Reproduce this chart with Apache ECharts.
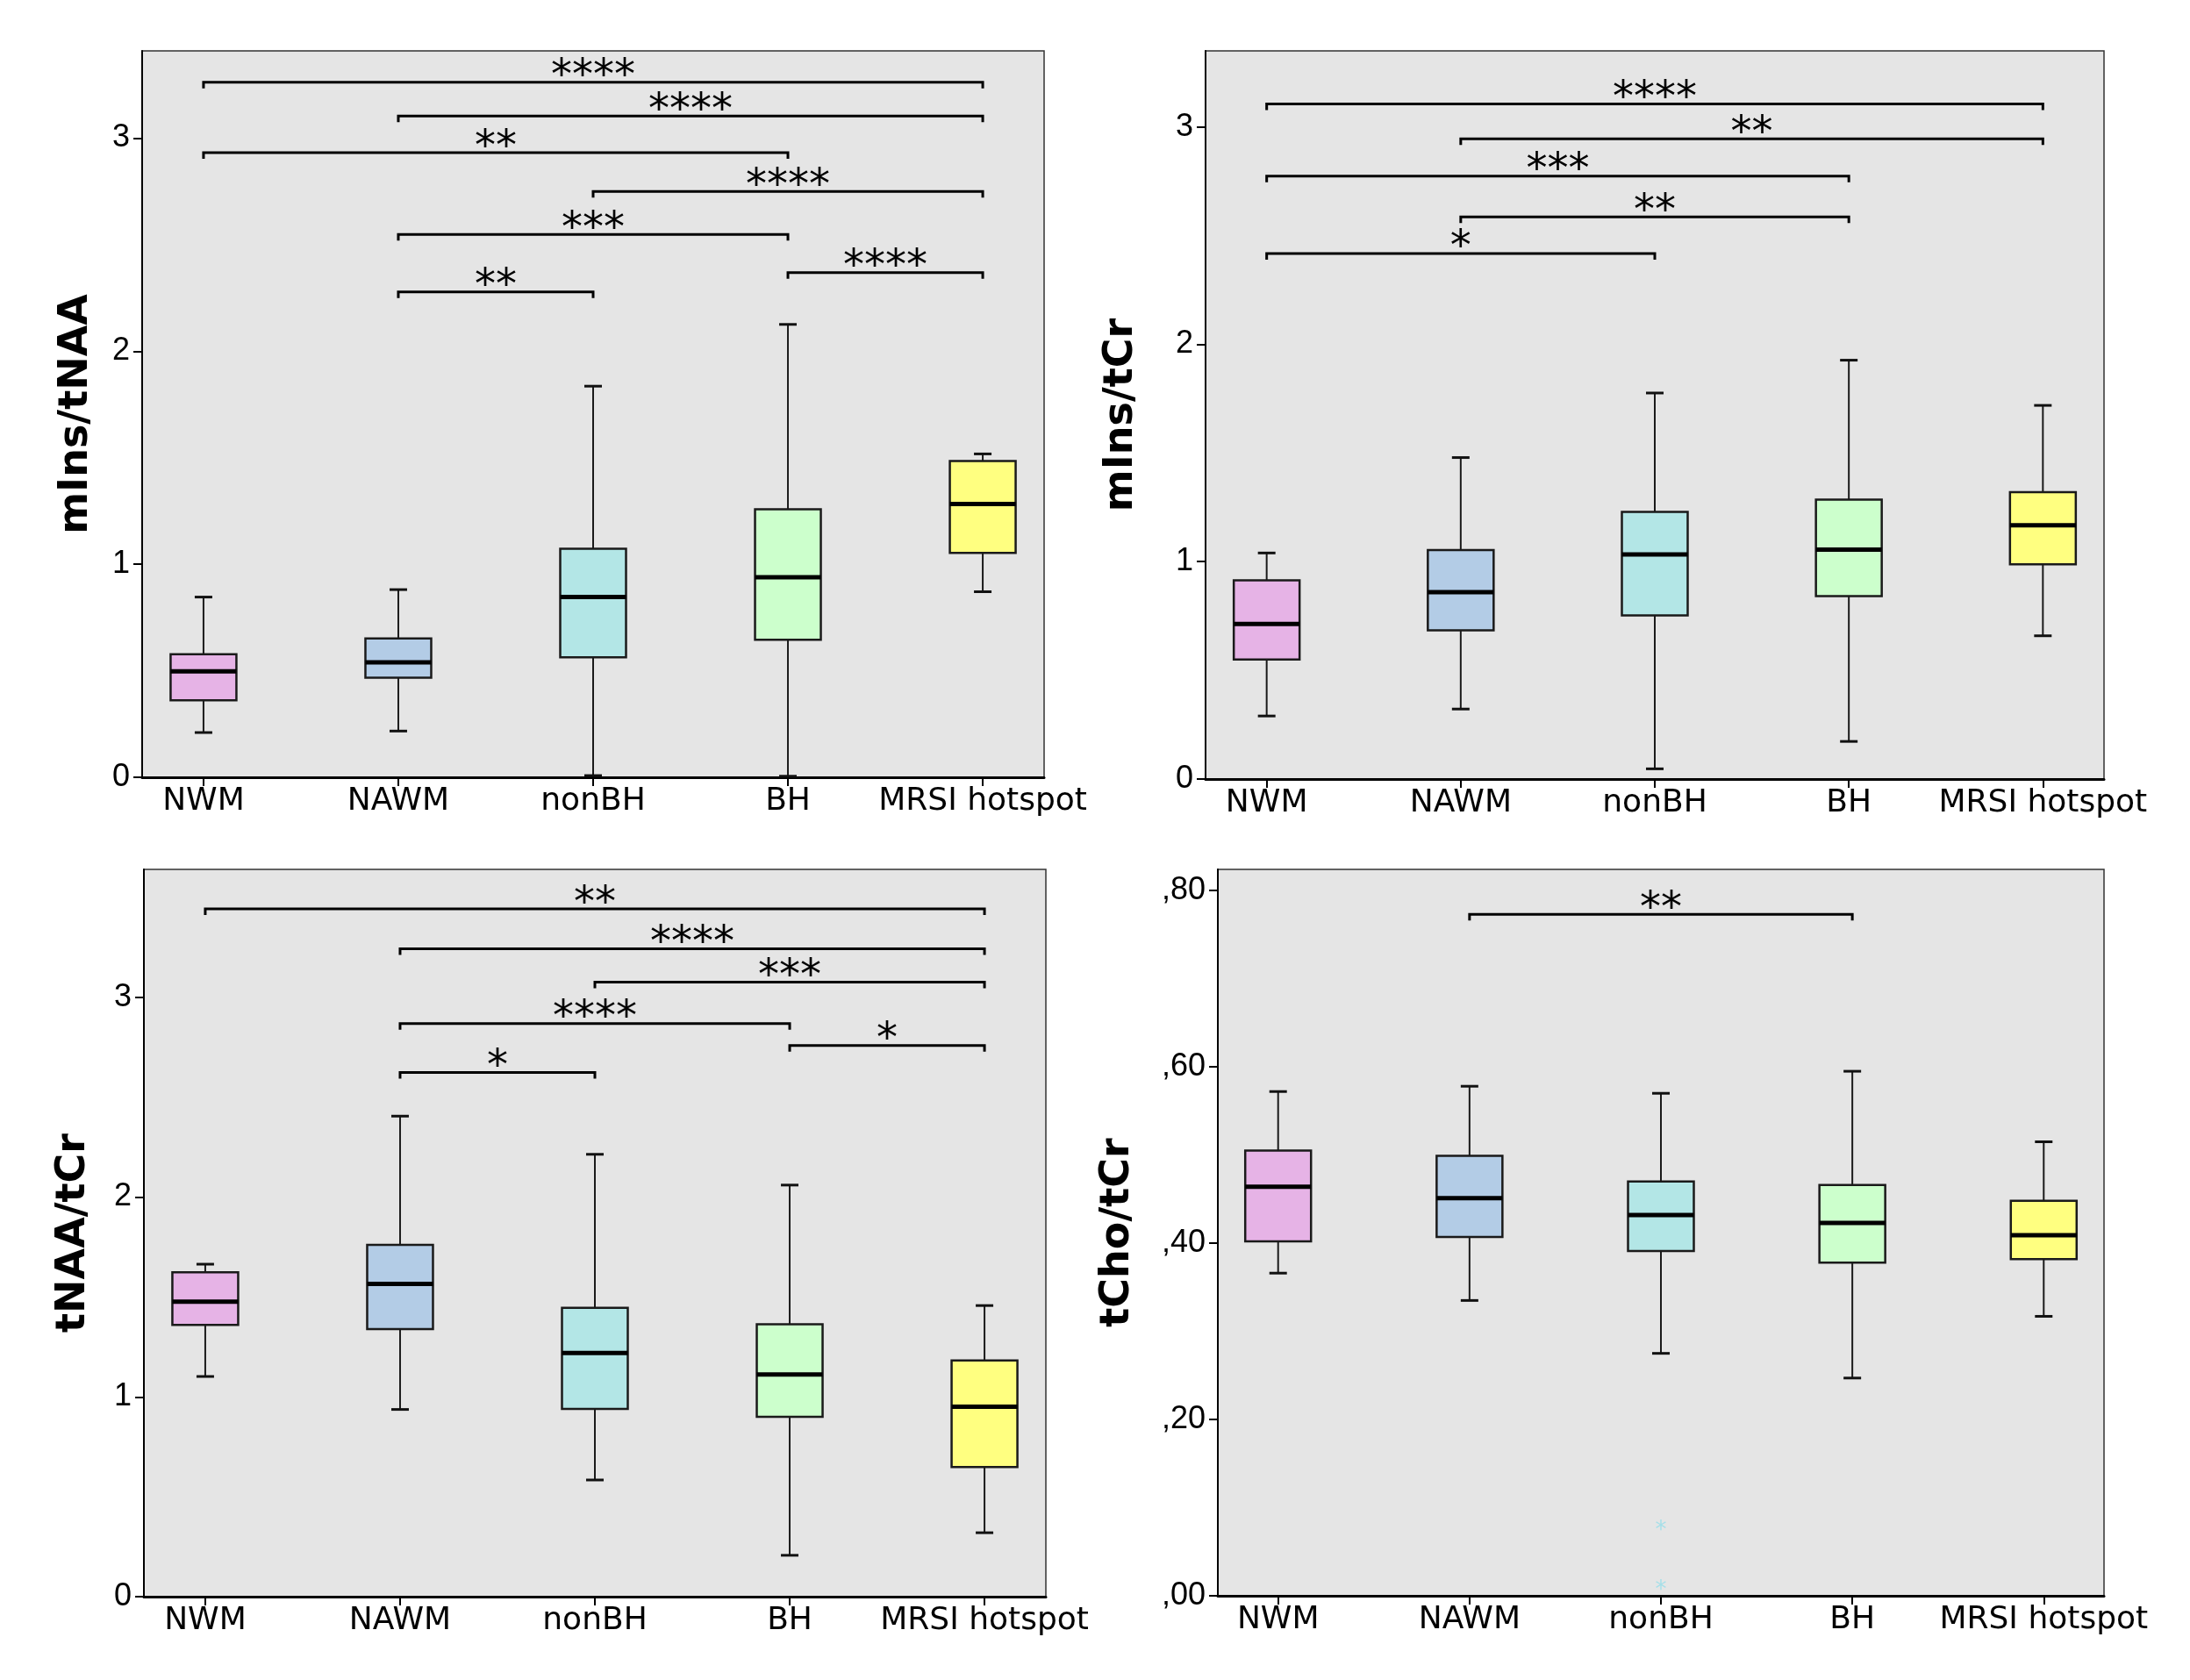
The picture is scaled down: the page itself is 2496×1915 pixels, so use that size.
<!DOCTYPE html>
<html><head><meta charset="utf-8">
<script src="https://cdn.jsdelivr.net/npm/echarts@6/dist/echarts.min.js"></script>
<style>html,body{margin:0;padding:0;background:#fff}#c{width:2496px;height:1915px}</style>
</head><body><div id="c"></div>
<script>
const categories = ['NWM', 'NAWM', 'nonBH', 'BH', 'MRSI hotspot'];
const boxColors = ['#e6b3e6', '#b3cce6', '#b3e6e6', '#ccffcc', '#ffff80'];

// each box: [whisker min, Q1, median, Q3, whisker max]
const mInsTNAA = [
  [0.21, 0.361, 0.497, 0.578, 0.846],
  [0.217, 0.467, 0.540, 0.652, 0.881],
  [0.008, 0.563, 0.846, 1.073, 1.836],
  [0.005, 0.646, 0.939, 1.258, 2.126],
  [0.871, 1.053, 1.283, 1.485, 1.518]
];
const mInsTCr = [
  [0.290, 0.550, 0.713, 0.914, 1.040],
  [0.322, 0.684, 0.860, 1.053, 1.479],
  [0.047, 0.753, 1.033, 1.229, 1.776],
  [0.173, 0.842, 1.055, 1.286, 1.927],
  [0.659, 0.988, 1.167, 1.320, 1.719]
];
const tNAATCr = [
  [1.102, 1.360, 1.476, 1.624, 1.664],
  [0.937, 1.339, 1.565, 1.761, 2.405],
  [0.584, 0.940, 1.220, 1.446, 2.214],
  [0.207, 0.900, 1.112, 1.363, 2.060],
  [0.320, 0.649, 0.951, 1.182, 1.457]
];
const tChoTCr = [
  [0.366, 0.402, 0.464, 0.505, 0.572],
  [0.335, 0.407, 0.451, 0.499, 0.578],
  [0.275, 0.391, 0.432, 0.470, 0.570],
  [0.247, 0.378, 0.423, 0.466, 0.595],
  [0.317, 0.382, 0.409, 0.448, 0.515]
];
// outliers: [category index, value]
const tChoTCrOutliers = [[2, 0.079], [2, 0.012]];

// significance brackets: [from category, to category, height, label]
const mInsTNAASig = [
  [0, 4, 3.263, '****'],
  [1, 4, 3.104, '****'],
  [0, 3, 2.932, '**'],
  [2, 4, 2.750, '****'],
  [1, 3, 2.548, '***'],
  [3, 4, 2.369, '****'],
  [1, 2, 2.278, '**']
];
const mInsTCrSig = [
  [0, 4, 3.106, '****'],
  [1, 4, 2.945, '**'],
  [0, 3, 2.774, '***'],
  [1, 3, 2.586, '**'],
  [0, 2, 2.418, '*']
];
const tNAATCrSig = [
  [0, 4, 3.442, '**'],
  [1, 4, 3.243, '****'],
  [2, 4, 3.076, '***'],
  [1, 3, 2.868, '****'],
  [3, 4, 2.758, '*'],
  [1, 2, 2.623, '*']
];
const tChoTCrSig = [
  [1, 3, 0.773, '**']
];

const ticksInt = [0, 1, 2, 3];
const ticksCho = [0, 0.2, 0.4, 0.6, 0.8];

function boxRender(params, api) {
  const x = api.value(0);
  const idx = params.dataIndex;
  const p = [1, 2, 3, 4, 5].map(k => api.coord([x, api.value(k)]));
  const cx = p[0][0];
  const yMin = p[0][1], yQ1 = p[1][1], yMed = p[2][1], yQ3 = p[3][1], yMax = p[4][1];
  const hw = 37.5, cw = 10;
  const ls = { stroke: '#1a1a1a', lineWidth: 2 };
  const cs = { stroke: '#111', lineWidth: 3 };
  return {
    type: 'group', children: [
      { type: 'line', shape: { x1: cx, y1: yQ3, x2: cx, y2: yMax }, style: ls },
      { type: 'line', shape: { x1: cx, y1: yQ1, x2: cx, y2: yMin }, style: ls },
      { type: 'line', shape: { x1: cx - cw, y1: yMax, x2: cx + cw, y2: yMax }, style: cs },
      { type: 'line', shape: { x1: cx - cw, y1: yMin, x2: cx + cw, y2: yMin }, style: cs },
      { type: 'rect', shape: { x: cx - hw, y: yQ3, width: 2 * hw, height: yQ1 - yQ3 }, style: { fill: boxColors[idx], stroke: '#1a1a1a', lineWidth: 2.5 } },
      { type: 'line', shape: { x1: cx - hw, y1: yMed, x2: cx + hw, y2: yMed }, style: { stroke: '#000', lineWidth: 5 } }
    ]
  };
}

function sigRenderFactory(list) {
  return function (params, api) {
    const y = api.value(2);
    const a = api.coord([api.value(0), y]);
    const b = api.coord([api.value(1), y]);
    const label = list[params.dataIndex][3];
    return {
      type: 'group', children: [
        { type: 'polyline', shape: { points: [[a[0], a[1] + 7], [a[0], a[1]], [b[0], b[1]], [b[0], b[1] + 7]] }, style: { stroke: '#000', lineWidth: 3, fill: null } },
        { type: 'text', x: (a[0] + b[0]) / 2, y: a[1] - 5, style: { text: label, font: '48px "DejaVu Sans"', fill: '#000', align: 'center', verticalAlign: 'middle' } }
      ]
    };
  };
}

function outlierRender(params, api) {
  const p = api.coord([api.value(0), api.value(1)]);
  return { type: 'text', x: p[0], y: p[1] + 6, style: { text: '*', font: '26px "DejaVu Sans"', fill: '#a6dfe8', align: 'center', verticalAlign: 'middle' } };
}

const grids = [
  { left: 162, top: 58, width: 1028, height: 828 },
  { left: 1374, top: 58, width: 1024, height: 830 },
  { left: 164, top: 991, width: 1028, height: 829 },
  { left: 1388, top: 991, width: 1010, height: 828 }
].map(g => Object.assign(g, { show: true, backgroundColor: '#e5e5e5', borderColor: '#333', borderWidth: 1.5 }));

const panels = [
  { data: mInsTNAA, sig: mInsTNAASig, ymax: 3.41, ticks: ticksInt, fmt: v => String(v), title: 'mIns/tNAA', gap: 52 },
  { data: mInsTCr, sig: mInsTCrSig, ymax: 3.35, ticks: ticksInt, fmt: v => String(v), title: 'mIns/tCr', gap: 73 },
  { data: tNAATCr, sig: tNAATCrSig, ymax: 3.64, ticks: ticksInt, fmt: v => String(v), title: 'tNAA/tCr', gap: 57 },
  { data: tChoTCr, sig: tChoTCrSig, ymax: 0.824, ticks: ticksCho, fmt: v => ',' + String(Math.round(v * 100)).padStart(2, '0'), title: 'tCho/tCr', gap: 91 }
];

const xAxes = [], yAxes = [], series = [];
panels.forEach((p, i) => {
  xAxes.push({
    gridIndex: i, type: 'value', min: -0.315, max: 4.315,
    axisLine: { show: true, onZero: false, lineStyle: { color: '#000', width: 3 } },
    axisTick: { show: true, customValues: [0, 1, 2, 3, 4], length: 10, lineStyle: { color: '#000', width: 2 } },
    axisLabel: { customValues: [0, 1, 2, 3, 4], formatter: v => categories[Math.round(v)], fontFamily: 'DejaVu Sans', fontSize: 36, color: '#000', margin: 10 },
    splitLine: { show: false }
  });
  yAxes.push({
    gridIndex: i, type: 'value', min: 0, max: p.ymax,
    axisLine: { show: true, onZero: false, lineStyle: { color: '#000', width: 2 } },
    axisTick: { show: true, customValues: p.ticks, length: 10, lineStyle: { color: '#000', width: 2 } },
    axisLabel: { customValues: p.ticks, formatter: p.fmt, fontFamily: 'Liberation Sans', fontSize: 36, color: '#000', margin: 14 },
    splitLine: { show: false },
    name: p.title, nameLocation: 'middle', nameGap: p.gap,
    nameTextStyle: { fontFamily: 'DejaVu Sans', fontWeight: 'bold', fontSize: 46, color: '#000' }
  });
  series.push({
    type: 'custom', xAxisIndex: i, yAxisIndex: i, renderItem: boxRender,
    data: p.data.map((d, k) => [k].concat(d)), silent: true
  });
  series.push({
    type: 'custom', xAxisIndex: i, yAxisIndex: i, renderItem: sigRenderFactory(p.sig),
    data: p.sig.map(s => [s[0], s[1], s[2]]), silent: true
  });
});
series.push({
  type: 'custom', xAxisIndex: 3, yAxisIndex: 3, renderItem: outlierRender,
  data: tChoTCrOutliers, silent: true
});

const chart = echarts.init(document.getElementById('c'));
chart.setOption({ animation: false, backgroundColor: '#fff', grid: grids, xAxis: xAxes, yAxis: yAxes, series: series });
</script>
</body></html>
